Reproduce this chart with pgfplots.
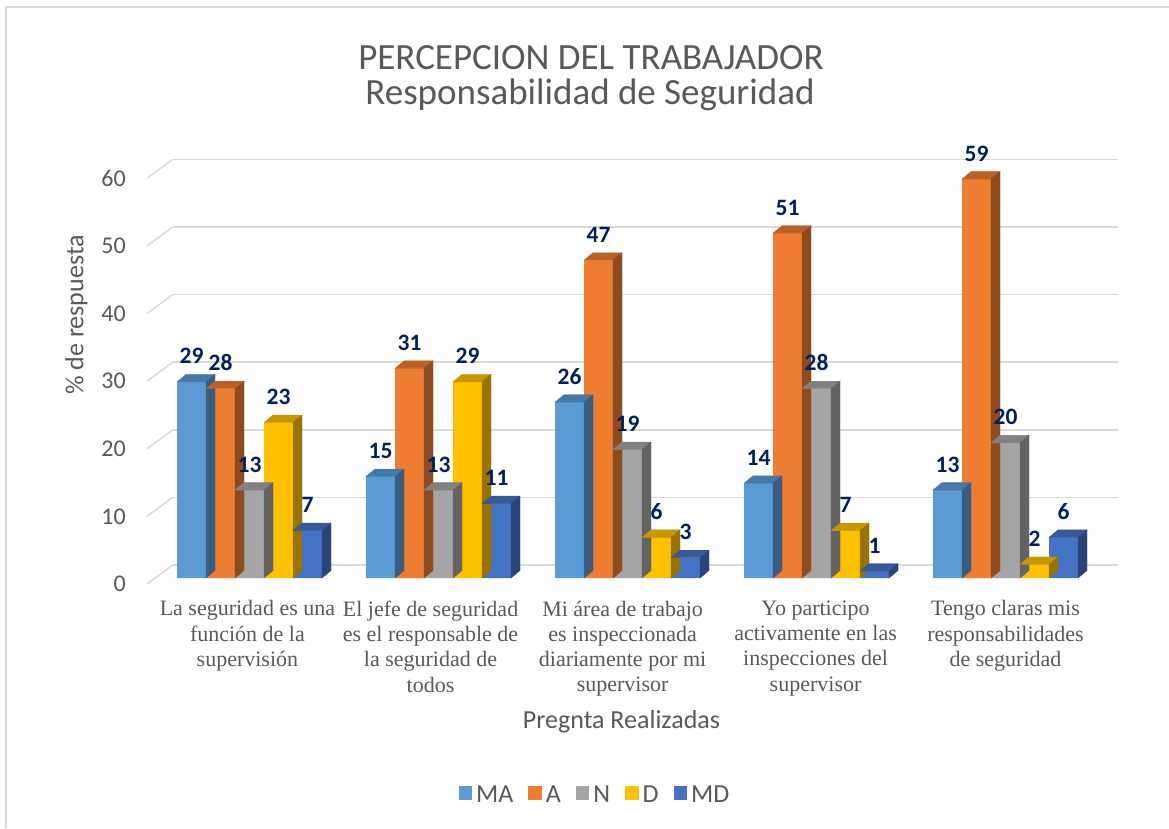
\documentclass[border=0pt]{standalone}
\usepackage{pgfplots}
\pgfplotsset{compat=1.18}
\usepackage{pgfplotstable}
\usepackage{fontspec}
\setmainfont{Carlito}
\newfontfamily\timesf{Liberation Serif}
\definecolor{cMA}{HTML}{5B9BD5}
\definecolor{cA}{HTML}{ED7D31}
\definecolor{cN}{HTML}{A5A5A5}
\definecolor{cD}{HTML}{FFC000}
\definecolor{cMD}{HTML}{4472C4}
\definecolor{txt}{HTML}{595959}
\definecolor{lab}{HTML}{002060}
\definecolor{gridc}{HTML}{D9D9D9}

\pgfplotstableread{
x MA A N D MD
0 29 28 13 23 7
1 15 31 13 29 11
2 26 47 19 6 3
3 14 51 28 7 1
4 13 59 20 2 6
}\datatable

\pgfdeclareplotmark{nothing}{}

\newcommand\facestyle[4]{%
  \pgfplotsset{#1/.style={
    forget plot, scatter, only marks, mark=nothing,
    visualization depends on={\thisrow{#2}\as\barh},
    scatter/@pre marker code/.code={%
      \pgfmathsetmacro\hh{\barh*6.76}%
      \fill[#3!78!black] (#4pt-14.5pt,0pt) -- (#4pt+14.5pt,0pt) -- (#4pt+23.5pt,7.5pt) -- (#4pt-5.5pt,7.5pt) -- cycle;
      \fill[#3!60!black] (#4pt+14.5pt,0pt) -- (#4pt+23.5pt,7.5pt) -- (#4pt+23.5pt,7.5pt-\hh pt) -- (#4pt+14.5pt,-\hh pt) -- cycle;
    },
    scatter/@post marker code/.code={},
  }}}
\facestyle{faceMA}{MA}{cMA}{-58}
\facestyle{faceA}{A}{cA}{-29}
\facestyle{faceN}{N}{cN}{0}
\facestyle{faceD}{D}{cD}{29}
\facestyle{faceMD}{MD}{cMD}{58}

\pgfplotsset{
  front/.style n args={2}{ybar, bar width=29pt, bar shift=#2pt, fill=#1, draw=none},
  lbl/.style={ybar, bar width=29pt, bar shift=#1pt, draw=none, fill=none, forget plot,
    nodes near coords,
    every node near coord/.append style={font=\bfseries\fontsize{23.5}{23.5}\selectfont, text=lab, anchor=base, xshift=#1pt, yshift=18pt}},
}

\begin{document}
\begin{tikzpicture}
\useasboundingbox (0,0) rectangle (1169pt,828pt);
\fill[white] (0,0) rectangle (1169pt,828pt);
\draw[gridc, line width=2pt] (6pt,0pt) -- (6pt,821pt) -- (1169pt,821pt);

% back wall grid
\begin{axis}[at={(172.7pt,263pt)}, anchor=south west, scale only axis,
  width=945pt, height=405.6pt, xmin=0, xmax=1, ymin=0, ymax=60,
  ytick={0,10,...,60}, xtick=\empty, yticklabels={},
  ymajorgrids, grid style={gridc, line width=1.5pt},
  axis line style={draw=none}, major tick length=0pt, clip=false]
\pgfplotsinvokeforeach{0,10,...,60}{\draw[gridc, line width=1.5pt] (axis cs:0,#1) -- ++(-25.7pt,-19pt);}
\end{axis}

\begin{axis}[at={(155pt,250pt)}, anchor=south west, scale only axis,
  width=945pt, height=405.6pt, xmin=-0.5, xmax=4.5, ymin=0, ymax=60, clip=false,
  axis line style={draw=none}, major tick length=0pt,
  ytick={0,10,...,60}, xtick={-0.011,0.958,1.974,2.995,4},
  xticklabels={{La seguridad es una\\función de la\\supervisión},
    {El jefe de seguridad\\es el responsable de\\la seguridad de\\todos},
    {Mi área de trabajo\\es inspeccionada\\diariamente por mi\\supervisor},
    {Yo participo\\activamente en las\\inspecciones del\\supervisor},
    {Tengo claras mis\\responsabilidades\\de seguridad}},
  /pgf/number format/assume math mode=true,
  yticklabel style={font=\fontsize{24}{24}\selectfont, text=txt, inner sep=0pt, xshift=-29pt, yshift=-6pt},
  xticklabel style={font=\timesf\fontsize{22}{25.3}\selectfont, text=txt, align=center, inner sep=0pt, yshift=-22.5pt},
  legend style={at={(axis description cs:0.4646,-0.535)}, anchor=center, draw=none, fill=none,
    legend columns=-1, font=\fontsize{26}{26}\selectfont, text=txt,
    nodes={inner sep=0pt},
    /tikz/every odd column/.append style={column sep=4pt},
    /tikz/every even column/.append style={column sep=15pt}},
  legend image code/.code={\fill[#1] (0pt,-4.8pt) rectangle (13.5pt,8.7pt);},
]
\addplot[front={cMA}{-58}] table[x=x,y=MA]{\datatable};
\addlegendentry{MA}
\addplot[faceMA] table[x=x,y=MA]{\datatable};
\addplot[front={cA}{-29}] table[x=x,y=A]{\datatable};
\addlegendentry{A}
\addplot[faceA] table[x=x,y=A]{\datatable};
\addplot[front={cN}{0}] table[x=x,y=N]{\datatable};
\addlegendentry{N}
\addplot[faceN] table[x=x,y=N]{\datatable};
\addplot[front={cD}{29}] table[x=x,y=D]{\datatable};
\addlegendentry{D}
\addplot[faceD] table[x=x,y=D]{\datatable};
\addplot[front={cMD}{58}] table[x=x,y=MD]{\datatable};
\addlegendentry{MD}
\addplot[faceMD] table[x=x,y=MD]{\datatable};

\addplot[lbl=-58] table[x=x,y=MA]{\datatable};
\addplot[lbl=-29] table[x=x,y=A]{\datatable};
\addplot[lbl=0] table[x=x,y=N]{\datatable};
\addplot[lbl=29] table[x=x,y=D]{\datatable};
\addplot[lbl=58] table[x=x,y=MD]{\datatable};
\end{axis}

\node[anchor=base, text=txt, font=\fontsize{37}{37}\selectfont] at (591pt,758pt) {PERCEPCION DEL TRABAJADOR};
\node[anchor=base, text=txt, font=\fontsize{37}{37}\selectfont] at (590pt,723pt) {Responsabilidad de Seguridad};
\node[anchor=base, text=txt, font=\fontsize{26}{26}\selectfont] at (621.5pt,99.6pt) {Pregnta Realizadas};
\node[anchor=base, rotate=90, text=txt, font=\fontsize{26}{26}\selectfont] at (83.4pt,513pt) {\% de respuesta};
\end{tikzpicture}
\end{document}
